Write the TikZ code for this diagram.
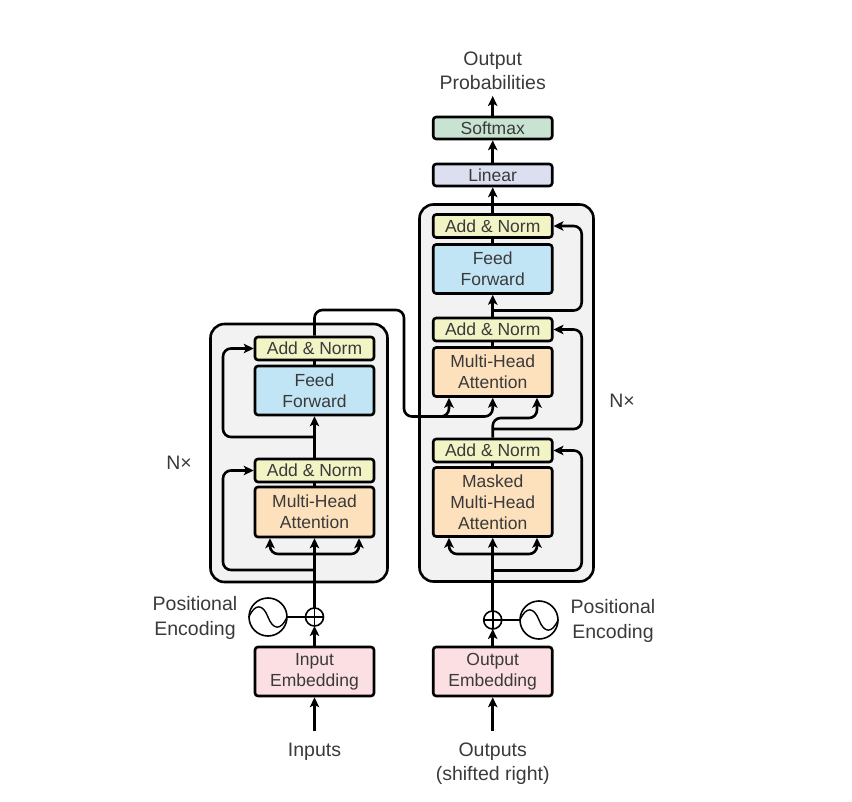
\documentclass[tikz,border=0pt]{standalone}
\usepackage{fontspec}
\setmainfont{Liberation Sans}
\usetikzlibrary{arrows.meta}
\definecolor{normfill}{HTML}{F2F4C6}
\definecolor{feedfill}{HTML}{C2E5F6}
\definecolor{attnfill}{HTML}{FDE0BC}
\definecolor{embedfill}{HTML}{FCDFE3}
\definecolor{linearfill}{HTML}{DCDFF0}
\definecolor{softfill}{HTML}{C9E3D2}
\definecolor{stackfill}{HTML}{F2F2F2}
\definecolor{inktext}{HTML}{3A3A3A}
\tikzset{
  stackbox/.style={draw=black, line width=2.6pt, fill=stackfill, rounded corners=14pt, inner sep=0pt},
  layer/.style={draw=black, line width=2.6pt, rounded corners=3pt, minimum width=119pt, inner sep=0pt, outer sep=1.3pt,
    align=center, text=inktext, font=\fontsize{17.5}{21}\selectfont},
  caption/.style={align=center, inner sep=0pt, text=inktext, font=\fontsize{19.5}{24.5}\selectfont},
  conn/.style={draw=black, line width=2.6pt},
  flow/.style={conn, -{Stealth[length=10pt,width=9.5pt,inset=2.5pt]}},
  rounded/.style={rounded corners=8pt},
  wavenode/.style={circle, draw=black, line width=1.6pt, minimum size=38pt, inner sep=0pt, outer sep=0pt},
  adder/.style={circle, draw=black, line width=1.6pt, fill=white, minimum size=18pt, inner sep=0pt, outer sep=0pt},
}
\begin{document}
\begin{tikzpicture}[x=1pt, y=-1pt]
\useasboundingbox (0,0) rectangle (852,802);
\node[stackbox, minimum width=177pt, minimum height=258pt] (encstack) at (299,453) {};
\node[stackbox, minimum width=174pt, minimum height=377pt] (decstack) at (506.5,393) {};
\node[layer, fill=normfill, minimum height=23pt] (encnormb) at (314.5,348.5) {Add \& Norm};
\node[layer, fill=feedfill, minimum height=49pt] (encfeed) at (314.5,390.5) {Feed\\Forward};
\node[layer, fill=normfill, minimum height=23pt] (encnorma) at (314.5,470.5) {Add \& Norm};
\node[layer, fill=attnfill, minimum height=50pt] (encattn) at (314.5,512) {Multi-Head\\Attention};
\node[layer, fill=embedfill, minimum height=49pt] (inembed) at (314.5,671.5) {Input\\Embedding};
\node[layer, fill=softfill, minimum height=22pt] (softmax) at (492.7,128) {Softmax};
\node[layer, fill=linearfill, minimum height=22pt] (linear) at (492.7,175) {Linear};
\node[layer, fill=normfill, minimum height=23pt] (decnormc) at (492.7,226) {Add \& Norm};
\node[layer, fill=feedfill, minimum height=49pt] (decfeed) at (492.7,269) {Feed\\Forward};
\node[layer, fill=normfill, minimum height=23pt] (decnormb) at (492.7,329.5) {Add \& Norm};
\node[layer, fill=attnfill, minimum height=49pt] (decattn) at (492.7,372) {Multi-Head\\Attention};
\node[layer, fill=normfill, minimum height=23pt] (decnorma) at (492.7,450.5) {Add \& Norm};
\node[layer, fill=attnfill, minimum height=69pt] (decmask) at (492.7,502) {Masked\\Multi-Head\\Attention};
\node[layer, fill=embedfill, minimum height=49pt] (outembed) at (492.7,671.5) {Output\\Embedding};
\node[adder] (encadd) at (314.5,617) {};
\node[adder] (decadd) at (492.7,620) {};
\node[wavenode] (encwave) at (268,617) {};
\node[wavenode] (decwave) at (539,620) {};
\node[caption] (inputs) at (314.5,751.5) {Inputs};
\node[caption] (outputs) at (492.7,763.5) {Outputs\\(shifted right)};
\node[caption] (probs) at (492.7,71) {Output\\Probabilities};
\node[caption] (encpos) at (195,618) {Positional\\Encoding};
\node[caption] (decpos) at (613,621) {Positional\\Encoding};
\node[caption] (encnx) at (179,463) {N×};
\node[caption] (decnx) at (622,401) {N×};
\coordinate (instart) at (314.5,731);
\coordinate (outstart) at (492.7,731);
\coordinate (probend) at (492.7,96);
\coordinate (encsplita) at (314.5,570);
\coordinate (encsplitb) at (314.5,437);
\coordinate (encsplitc) at (314.5,554);
\coordinate (encbenda) at (223,470.5);
\coordinate (encbendb) at (223,348.5);
\coordinate (encattnl) at (270,554);
\coordinate (encattnr) at (359,554);
\coordinate (crossa) at (314.5,310);
\coordinate (crossb) at (404,416.5);
\coordinate (crossc) at (449,416.5);
\coordinate (crossm) at (440,416.5);
\coordinate (decsplitb) at (492.7,429);
\coordinate (decsplitd) at (492.7,310.5);
\coordinate (decsplita) at (492.7,570.5);
\coordinate (decsplitm) at (492.7,554);
\coordinate (decbenda) at (581.7,450.5);
\coordinate (decbendb) at (581.7,329.5);
\coordinate (decbendc) at (581.7,226);
\coordinate (decattnl) at (449,554);
\coordinate (decattnr) at (537,554);
\coordinate (qcorner) at (492.7,418);
\coordinate (qturn) at (537,418);
\draw[line width=1.6pt] (encadd.north) -- (encadd.south) (encadd.west) -- (encadd.east);
\draw[line width=1.6pt] (decadd.north) -- (decadd.south) (decadd.west) -- (decadd.east);
\draw[line width=1.4pt] (encwave.west) .. controls +(6,-14) and +(-5,-13) .. (encwave.center) .. controls +(5,13) and +(-6,14) .. (encwave.east);
\draw[line width=1.4pt] (decwave.west) .. controls +(6,-14) and +(-5,-13) .. (decwave.center) .. controls +(5,13) and +(-6,14) .. (decwave.east);
\draw[conn, line width=2pt] (encwave.east) -- (encadd.west);
\draw[conn, line width=2pt] (decwave.west) -- (decadd.east);
\draw[flow] (instart) -- (inembed.south);
\draw[flow] (outstart) -- (outembed.south);
\draw[flow] (inembed.north) -- (encadd.south);
\draw[flow] (outembed.north) -- (decadd.south);
\draw[flow] (encadd.north) -- (encattn.south);
\draw[flow] (decadd.north) -- (decmask.south);
\draw[conn] (encattn.north) -- (encnorma.south);
\draw[flow] (encnorma.north) -- (encfeed.south);
\draw[conn] (encfeed.north) -- (encnormb.south);
\draw[conn] (decmask.north) -- (decnorma.south);
\draw[conn] (decattn.north) -- (decnormb.south);
\draw[flow] (decnormb.north) -- (decfeed.south);
\draw[conn] (decfeed.north) -- (decnormc.south);
\draw[flow] (decnormc.north) -- (linear.south);
\draw[flow] (linear.north) -- (softmax.south);
\draw[flow] (softmax.north) -- (probend);
\draw[flow, rounded] (encsplita) -| (encbenda) -- (encnorma.west);
\draw[flow, rounded] (encsplitb) -| (encbendb) -- (encnormb.west);
\draw[flow, rounded] (encsplitc) -| (encattn.south -| encattnl);
\draw[flow, rounded] (encsplitc) -| (encattn.south -| encattnr);
\draw[flow, rounded] (encnormb.north) -- (crossa) -| (crossb) -- (crossc) -- (decattn.south -| crossc);
\draw[flow, rounded] (crossm) -| (decattn.south);
\draw[flow, rounded] (decnorma.north) -- (qcorner) -- (qturn) -- (decattn.south -| qturn);
\draw[flow, rounded] (decsplita) -| (decbenda) -- (decnorma.east);
\draw[flow, rounded] (decsplitb) -| (decbendb) -- (decnormb.east);
\draw[flow, rounded] (decsplitd) -| (decbendc) -- (decnormc.east);
\draw[flow, rounded] (decsplitm) -| (decmask.south -| decattnl);
\draw[flow, rounded] (decsplitm) -| (decmask.south -| decattnr);
\end{tikzpicture}
\end{document}
